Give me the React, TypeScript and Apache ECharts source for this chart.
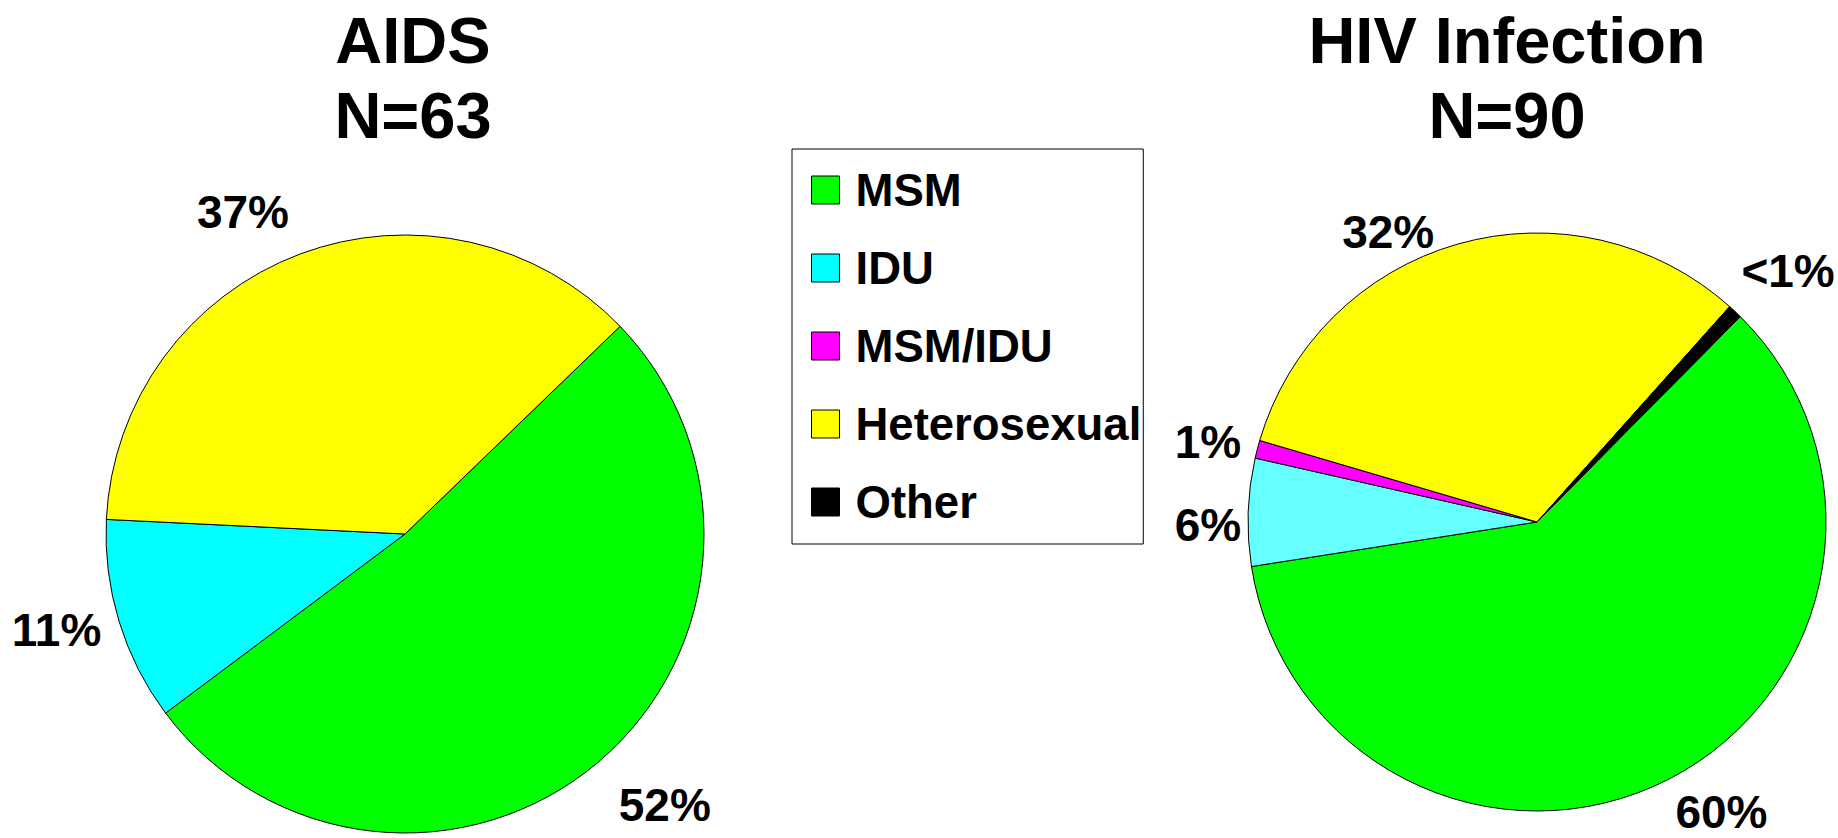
import React, { useEffect, useRef } from 'react';
import * as echarts from 'echarts';

const categories = ['MSM', 'IDU', 'MSM/IDU', 'Heterosexual', 'Other'];
const aidsPercent = [52, 11, 0, 37, 0];
const hivPercent = [60, 6, 1, 32, 0.8];
const aidsTitle = 'AIDS\nN=63';
const hivTitle = 'HIV Infection\nN=90';

const sliceColors = ['#00FF00', '#00FFFF', '#FF00FF', '#FFFF00', '#000000'];
const hivSliceColors = ['#00FF00', '#66FFFF', '#FF00FF', '#FFFF00', '#000000'];

// label placement tweaks per category: [lineLength, dx, dy]
const aidsLabelPlace = [[57, -22, 0], [28, 14, 0], [0, 0, 0], [45, 10, 0], [0, 0, 0]];
const hivLabelPlace = [[37, -15, 0], [0, -2, 13], [27, 15, 0], [13, -15, 0], [56, -37, 0]];

const FONT = '"Liberation Sans", Arial, Helvetica, sans-serif';

function buildPie(
  values: number[],
  colors: string[],
  place: number[][],
  center: number[],
  radius: number,
  startAngle: number
) {
  const idxMap: number[] = [];
  const data: any[] = [];
  values.forEach((v, i) => {
    if (v > 0) {
      idxMap.push(i);
      data.push({
        name: categories[i],
        value: v,
        itemStyle: { color: colors[i] },
        labelLine: { show: false, length: place[i][0], length2: 0 },
      });
    }
  });
  return {
    type: 'pie',
    center,
    radius,
    startAngle,
    clockwise: true,
    avoidLabelOverlap: false,
    emphasis: { disabled: true },
    itemStyle: { borderColor: '#000', borderWidth: 1 },
    label: {
      show: true,
      position: 'outside',
      fontSize: 46,
      fontWeight: 'bold',
      color: '#000',
      fontFamily: FONT,
      width: 110,
      overflow: 'none',
      bleedMargin: 0,
      formatter: (p: any) => (p.value < 1 ? '<1%' : `${p.value}%`),
    },
    labelLine: { show: false, length: 30, length2: 0 },
    labelLayout: (p: any) => {
      const orig = idxMap[p.dataIndex];
      const pl = place[orig] || [0, 0, 0];
      return { dx: pl[1], dy: pl[2] };
    },
    data,
  };
}

export default function App() {
  const ref = useRef<HTMLDivElement>(null);
  useEffect(() => {
    if (!ref.current) return;
    const chart = echarts.init(ref.current, undefined, { renderer: 'svg' });
    const titleStyle = {
      fontSize: 65,
      fontWeight: 'bold',
      lineHeight: 75,
      color: '#000',
      fontFamily: FONT,
    };
    chart.setOption({
      animation: false,
      backgroundColor: '#fff',
      title: [
        { text: aidsTitle, left: 413, top: 3, textAlign: 'center', padding: 0, textStyle: titleStyle },
        { text: hivTitle, left: 1507, top: 3, textAlign: 'center', padding: 0, textStyle: titleStyle },
      ],
      legend: {
        orient: 'vertical',
        left: 792,
        top: 149,
        padding: [16, 2, 17, 19],
        itemGap: 28,
        itemWidth: 28,
        itemHeight: 28,
        icon: 'rect',
        borderColor: '#000',
        borderWidth: 1,
        selectedMode: false,
        data: categories,
        itemStyle: { borderColor: '#000', borderWidth: 1 },
        textStyle: {
          fontSize: 45.5,
          fontWeight: 'bold',
          color: '#000',
          fontFamily: FONT,
          lineHeight: 50,
          padding: [0, 0, 0, 11],
        },
      },
      series: [
        buildPie(aidsPercent, sliceColors, aidsLabelPlace, [405, 534], 299, 44),
        buildPie(hivPercent, hivSliceColors, hivLabelPlace, [1537, 522], 289, 45.3),
      ],
    });
    return () => chart.dispose();
  }, []);
  return (
    <div
      ref={ref}
      style={{ position: 'fixed', left: 0, top: 0, width: 1838, height: 838, background: '#fff' }}
    />
  );
}
